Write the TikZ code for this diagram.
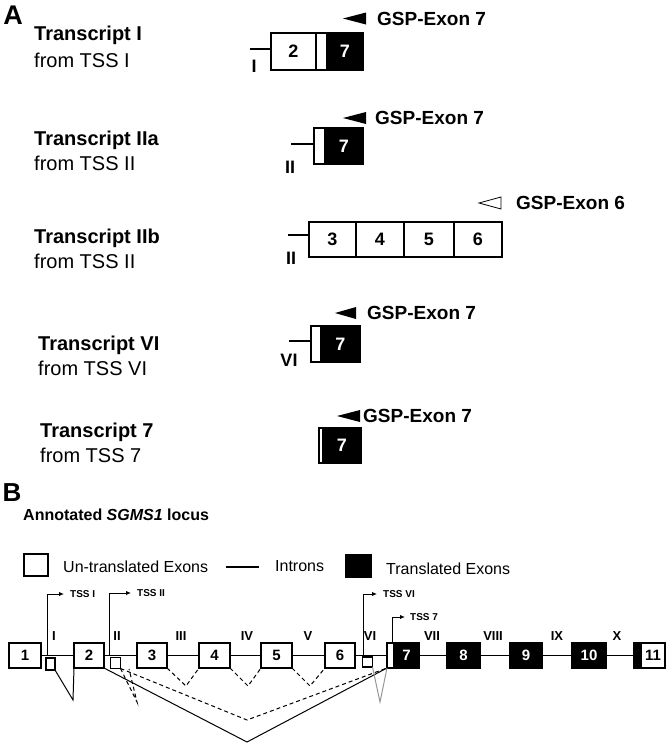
\documentclass[tikz,border=0pt]{standalone}
\usepackage{fontspec}
\setmainfont{Liberation Sans}
\usepackage{xcolor}
\definecolor{ColG}{RGB}{150,150,150}
\usepackage{tikz}
\usetikzlibrary{arrows.meta}
\tikzstyle{Exon}=[draw,fill=white,line width=2pt,inner sep=0pt,outer sep=0pt,
font=\bfseries\fontsize{18}{18}\selectfont]
\tikzstyle{ExonB}=[Exon,fill=black,text=white]
\tikzstyle{ExonL}=[Exon,line width=1.8pt,minimum height=25pt,
font=\bfseries\fontsize{15}{15}\selectfont]
\tikzstyle{ExonLB}=[ExonL,fill=black,text=white]
\tikzstyle{Alt}=[draw,fill=white,line width=1.3pt,inner sep=0pt,outer sep=0pt]
\tikzstyle{Intron}=[draw,line width=1.8pt]
\tikzstyle{IntronL}=[draw,line width=1.5pt]
\tikzstyle{NodeT}=[anchor=base west,inner sep=0pt,font=\bfseries\fontsize{20}{20}\selectfont]
\tikzstyle{NodeF}=[anchor=base west,inner sep=0pt,font=\fontsize{20}{20}\selectfont]
\tikzstyle{NodeG}=[anchor=west,inner sep=0pt,font=\bfseries\fontsize{19}{19}\selectfont]
\tikzstyle{NodeS}=[inner sep=0pt,font=\bfseries\fontsize{18}{18}\selectfont]
\tikzstyle{NodeR}=[inner sep=0pt,font=\bfseries\fontsize{13}{13}\selectfont]
\tikzstyle{NodeTSS}=[anchor=west,inner sep=0pt,font=\bfseries\fontsize{10}{10}\selectfont]
\tikzstyle{NodeL}=[anchor=west,inner sep=0pt,font=\fontsize{16}{16}\selectfont]
\tikzstyle{Primer}=[fill=black]
\tikzstyle{PrimerO}=[draw=black,fill=white,line width=0.8pt]
\tikzstyle{Tss}=[draw,line width=1pt,-{Latex[length=5pt,width=4.5pt]}]
\tikzstyle{Splice}=[draw,line width=1pt]
\tikzstyle{SpliceD}=[Splice,dash pattern=on 4pt off 3pt]

\begin{document}
\begin{tikzpicture}[x=1pt,y=-1pt]
\useasboundingbox(0,0)rectangle(669,745);
\node[inner sep=0pt,font=\bfseries\fontsize{27}{27}\selectfont](A)at(13,15){A};
%
\node[NodeT](t1)at(34,40){Transcript I};
\node[NodeF](f1)at(34,67){from TSS I};
\node[Exon,minimum width=45pt,minimum height=37pt](e12)at(293.5,51.5){2};
\node[Exon,minimum width=11pt,minimum height=37pt](s1)at(321.5,51.5){};
\node[ExonB,minimum width=36pt,minimum height=37pt](e17)at(345,51.5){7};
\coordinate(i1)at(250,49);
\draw[Intron](i1)--(i1-|e12.west);
\node[NodeS](r1)at(254,66){I};
\node[NodeG](g1)at(377,18.5){GSP-Exon 7};
\fill[Primer]([xshift=-11pt]g1.west)++(0,-6)--++(0,12)--++(-23,-6)--cycle;
%
\node[NodeT](t2)at(34,145){Transcript IIa};
\node[NodeF](f2)at(34,170){from TSS II};
\node[Exon,minimum width=11pt,minimum height=36pt](s2)at(319.5,146){};
\node[ExonB,minimum width=38pt,minimum height=36pt](e27)at(344,146){7};
\coordinate(i2)at(291,144);
\draw[Intron](i2)--(i2-|s2.west);
\node[NodeS](r2)at(290,167){II};
\node[NodeG](g2)at(375,118){GSP-Exon 7};
\fill[Primer]([xshift=-9pt]g2.west)++(0,-6)--++(0,12)--++(-23,-6)--cycle;
%
\node[NodeT](t3)at(34,243){Transcript IIb};
\node[NodeF](f3)at(34,268){from TSS II};
\node[Exon,minimum width=47pt,minimum height=35pt](e33)at(332.5,239.5){3};
\node[Exon,minimum width=48pt,minimum height=35pt](e34)at(380,239.5){4};
\node[Exon,minimum width=50pt,minimum height=35pt](e35)at(429,239.5){5};
\node[Exon,minimum width=48pt,minimum height=35pt](e36)at(478,239.5){6};
\coordinate(i3)at(288,235);
\draw[Intron](i3)--(i3-|e33.west);
\node[NodeS](r3)at(291,258){II};
\node[NodeG](g3)at(516,203){GSP-Exon 6};
\draw[PrimerO]([xshift=-15pt]g3.west)++(0,-6)--++(0,12)--++(-22,-6)--cycle;
%
\node[NodeT](t4)at(38,350){Transcript VI};
\node[NodeF](f4)at(38,375){from TSS VI};
\node[Exon,minimum width=10pt,minimum height=36pt](s4)at(316,344){};
\node[ExonB,minimum width=39pt,minimum height=36pt](e47)at(340.5,344){7};
\coordinate(i4)at(289,341);
\draw[Intron](i4)--(i4-|s4.west);
\node[NodeS](r4)at(289,360){VI};
\node[NodeG](g4)at(367,313){GSP-Exon 7};
\fill[Primer]([xshift=-11pt]g4.west)++(0,-6)--++(0,12)--++(-21,-6)--cycle;
%
\node[NodeT](t5)at(40,437){Transcript 7};
\node[NodeF](f5)at(40,462){from TSS 7};
\node[Exon,minimum width=4pt,minimum height=35pt](s5)at(321,445.5){};
\node[ExonB,minimum width=38pt,minimum height=35pt](e57)at(342,445.5){7};
\node[NodeG](g5)at(363,416){GSP-Exon 7};
\fill[Primer]([xshift=-3pt]g5.west)++(0,-6)--++(0,12)--++(-23,-6)--cycle;
%
\node[inner sep=0pt,font=\bfseries\fontsize{26}{26}\selectfont](B)at(12,493){B};
\node[NodeL,font=\bfseries\fontsize{16}{16}\selectfont](loc)at(23,515){Annotated \textit{SGMS1} locus};
\node[Alt,line width=1.6pt,minimum width=24pt,minimum height=22pt](k1)at(36,565){};
\node[NodeL](k1t)at(63,567){Un-translated Exons};
\coordinate(k2a)at(226,567);
\coordinate(k2b)at(259,567);
\draw[Intron](k2a)--(k2b);
\node[NodeL](k2t)at(275,566){Introns};
\node[Alt,fill=black,minimum width=26pt,minimum height=23pt](k3)at(358.5,566){};
\node[NodeL](k3t)at(386,569){Translated Exons};
%
\foreach \n/\x/\w in {1/25/32,2/89/30,3/152/30,4/214.5/31,5/276.5/31,6/340/30}
  \node[ExonL,minimum width=\w pt](e\n)at(\x,655.5){\n};
\node[ExonL,minimum width=7pt](s7)at(390.5,655.5){};
\node[ExonLB,minimum width=25pt](e7)at(406.5,655.5){7};
\foreach \n/\x/\w in {8/463.5/33,9/526/32,10/589/34}
  \node[ExonLB,minimum width=\w pt](e\n)at(\x,655.5){\n};
\node[ExonLB,minimum width=7pt](s11)at(637.5,655.5){};
\node[ExonL,minimum width=24pt](e11)at(653,655.5){11};
\foreach \a/\b in {e1/e2,e2/e3,e3/e4,e4/e5,e5/e6,e6/s7,e7/e8,e8/e9,e9/e10,e10/s11}
  \draw[IntronL](\a)--(\b);
\node[Alt,minimum width=9pt,minimum height=12pt](a1)at(50.5,664){};
\node[Alt,minimum width=10pt,minimum height=11pt](a2)at(115.5,663){};
\node[Alt,minimum width=10pt,minimum height=10pt](a6)at(367.5,662){};
\foreach \t/\x in {I/54,II/117,III/181,IV/247,V/308,VI/370,VII/432,VIII/493,IX/557,X/617}
  \node[NodeR](r\t)at(\x,636){\t};
%
\node[NodeTSS](tI)at(70,594){TSS I};
\node[NodeTSS](tII)at(137,593){TSS II};
\node[NodeTSS](tVI)at(383,594){TSS VI};
\node[NodeTSS](t7)at(410,617){TSS 7};
\coordinate(pI)at(47,655.5);
\coordinate(pII)at(109,655.5);
\coordinate(pVI)at(363,655.5);
\draw[Tss](pI)|-([xshift=-6pt]tI.west);
\draw[Tss](pII)|-([xshift=-6pt]tII.west);
\draw[Tss](pVI)|-([xshift=-6pt]tVI.west);
\draw[Tss]([xshift=2pt]s7.north)|-([xshift=-5pt]t7.west);
%
\coordinate(v1)at(73,700);
\coordinate(v2)at(137,702);
\coordinate(v2b)at(129,669);
\coordinate(v3)at(186,686);
\coordinate(v4)at(248,686);
\coordinate(v5)at(310,686);
\coordinate(v6)at(247,720);
\coordinate(v7)at(247,742);
\coordinate(v8)at(380,702);
\draw[Splice](a1.south east)--(v1)--(e2.south west);
\draw[SpliceD](a2.south east)--(v2)--(v2b);
\draw[SpliceD](e3.south east)--(v3)--(e4.south west);
\draw[SpliceD](e4.south east)--(v4)--(e5.south west);
\draw[SpliceD](e5.south east)--(v5)--(e6.south west);
\draw[SpliceD](a2.south east)--(v6)--(s7.south west);
\draw[Splice](e2.south east)--(v7)--(s7.south west);
\draw[Splice,draw=ColG](a6.south east)--(v8)--(s7.south west);
\end{tikzpicture}
\end{document}
